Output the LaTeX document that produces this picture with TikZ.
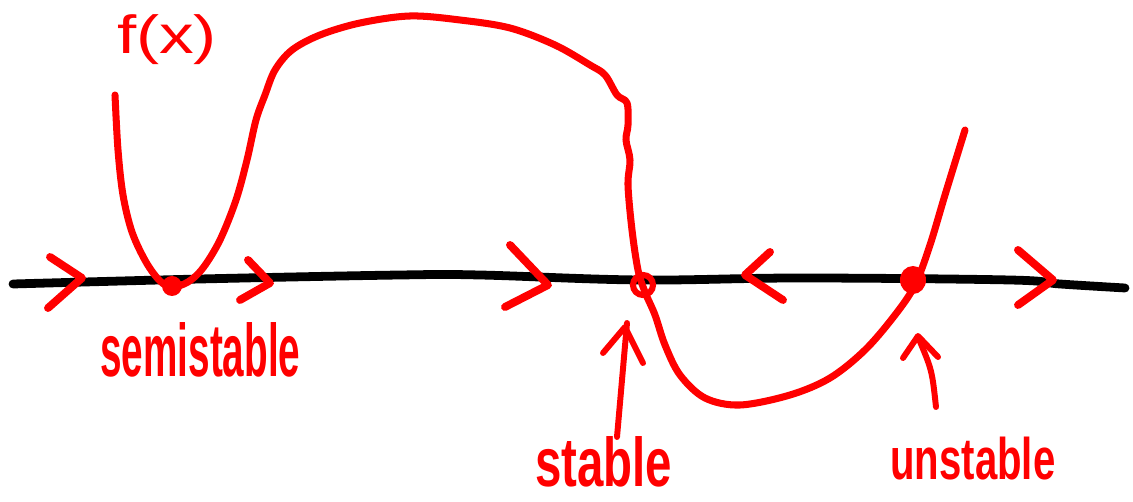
\documentclass[tikz,border=0pt]{standalone}
\usepackage{fontspec}
\usepackage{graphicx}
\setmainfont{Liberation Sans}
\definecolor{pen}{RGB}{255,0,0}
\tikzset{
  axisline/.style={line width=5pt,line cap=round,line join=round,black},
  fcurve/.style={line width=4pt,line cap=round,line join=round,pen},
  chev/.style={line width=4.5pt,line cap=round,line join=round,pen},
  pointer/.style={line width=3.4pt,line cap=round,line join=round,pen},
  lbl/.style={inner sep=0pt,text=pen,font=\bfseries}
}
\begin{document}
\begin{tikzpicture}[x=0.02cm,y=-0.02cm]
\useasboundingbox (0,0) rectangle (1133,502);
% axis
\draw[axisline] plot[smooth,tension=0.6] coordinates {(13,284) (200,279) (400,275) (480,275) (640,280) (800,278) (1010,280) (1060,284) (1125,288)};
% f(x) curve
\draw[fcurve] plot[smooth,tension=0.55] coordinates {(115,95) (118,150) (123,195) (132,232) (146,262) (160,281) (172,287) (188,282) (203,268) (220,240) (236,200) (247,160) (256,120) (265,95) (275,70) (292,50) (320,35) (360,23) (410,16) (460,20) (510,28) (555,45) (590,65) (605,75) (617,95) (627,103) (628,125) (626,140) (630,160) (628,185) (632,230) (638,270) (645,292) (655,315) (665,345) (680,375) (705,398) (740,405) (790,395) (830,378) (865,350) (895,315) (915,285) (930,245) (945,195) (965,130)};
% fixed points
\fill[pen] (172,286) circle (10);
\draw[pen,line width=3.5pt] (643,285) circle (10);
\fill[pen] (913,280) ellipse (13 and 14);
% flow chevrons
\draw[chev] (50,257) -- (82,278) -- (48,308);
\draw[chev] (248,260) -- (270,283) -- (240,300);
\draw[chev] (510,245) -- (548,285) -- (505,307);
\draw[chev] (770,252) -- (745,275) -- (783,300);
\draw[chev] (1018,250) -- (1053,280) -- (1018,305);
% pointers
\draw[pointer] (617,437) .. controls (622,380) .. (627,323);
\draw[pointer] (603,353) -- (625,327) -- (643,363);
\draw[pointer] (936,407) .. controls (932,370) .. (918,337);
\draw[pointer] (903,358) -- (918,336) -- (938,357);
% labels
\node[lbl,font=\mdseries,anchor=center] (fx) at (167,40) {\resizebox*{2cm}{1cm}{f(x)}};
\node[lbl,anchor=base west] (semi) at (100,377) {\resizebox{4cm}{1.08cm}{semistable}};
\node[lbl,anchor=base west] (stab) at (535,487) {\resizebox{2.74cm}{1.0cm}{stable}};
\node[lbl,anchor=base west] (unst) at (890,480) {\resizebox{3.3cm}{0.85cm}{unstable}};
\end{tikzpicture}
\end{document}
